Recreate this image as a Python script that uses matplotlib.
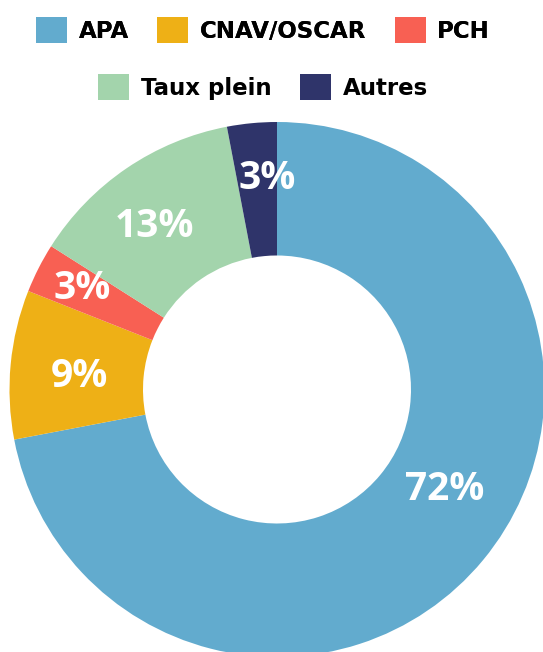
import numpy as np
import matplotlib.pyplot as plt
from matplotlib.patches import Patch

# données
labels = ['APA', 'CNAV/OSCAR', 'PCH', 'Taux plein', 'Autres']
values = [72, 9, 3, 13, 3]
colors = ['#62abce', '#eeb016', '#f86053', '#a3d4ac', '#2f346a']

W, H = 543, 652
fig = plt.figure(figsize=(W / 100, H / 100), dpi=100)

# centre du donut (px) et rayon
cx, cy, R = 277, 389.5, 267.5
ax = fig.add_axes([(cx - R) / W, (H - cy - R) / H, 2 * R / W, 2 * R / H])

wedges, _ = ax.pie(values, colors=colors, startangle=90, counterclock=False,
                   radius=1, wedgeprops=dict(width=1 - 134 / R, linewidth=0))
for w in wedges:
    w.set_clip_on(False)
ax.set_xlim(-1, 1)
ax.set_ylim(-1, 1)
ax.set_aspect('equal')
ax.axis('off')

# étiquettes (distance au centre et petit décalage angulaire)
label_dist = [0.73, 0.74, 0.82, 0.76, 0.79]
label_shift = [8.8, 1.5, -0.3, 2.7, -2.8]
for w, v, d, s in zip(wedges, values, label_dist, label_shift):
    ang = np.deg2rad((w.theta1 + w.theta2) / 2 + s)
    ax.text(d * np.cos(ang), d * np.sin(ang), f'{v}%', ha='center', va='center',
            color='white', fontsize=28, fontweight='bold', family='Open Sans')

# légende sur deux lignes
handles = [Patch(facecolor=c, edgecolor='none') for c in colors]
common = dict(frameon=False, handlelength=1.35, handleheight=1.35,
              handletextpad=0.5, columnspacing=1.25,
              prop=dict(family='DejaVu Sans', weight='bold', size=16.5))
leg1 = fig.legend(handles[:3], labels[:3], ncol=3, loc='center',
                  bbox_to_anchor=(263 / W, 1 - 30 / H), **common)
fig.add_artist(leg1)
fig.legend(handles[3:], labels[3:], ncol=2, loc='center',
           bbox_to_anchor=(263 / W, 1 - 87 / H), **common)

fig.savefig('out.png', dpi=100)
